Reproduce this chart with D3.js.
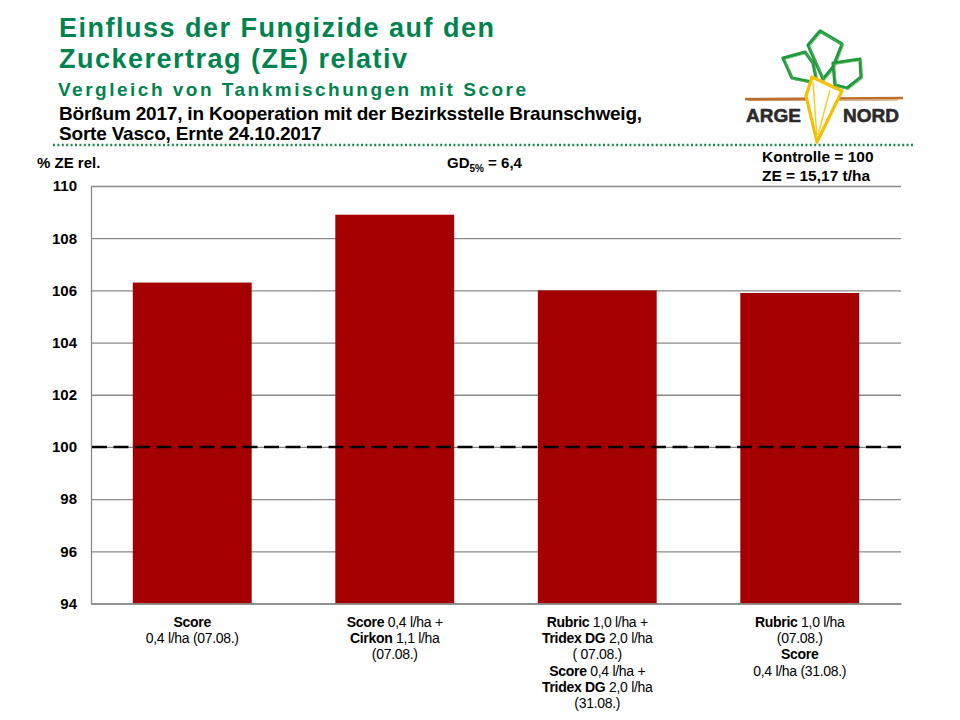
<!DOCTYPE html>
<html>
<head>
<meta charset="utf-8">
<title>Einfluss der Fungizide auf den Zuckerertrag</title>
<script src="https://cdn.jsdelivr.net/npm/d3@7"></script>
<style>
    body { margin: 0; background: #fff; }
    svg { display: block; font-family: "Liberation Sans", Arial, sans-serif; }
    .narrow { font-family: "Liberation Sans Narrow", "Arial Narrow", "Liberation Sans", Arial, sans-serif; }
</style>
</head>
<body>
<div id="chart"></div>
<script>
// data
var treatments = ["Score", "Score + Cirkon", "Rubric + Tridex DG / Score + Tridex DG", "Rubric / Score"];
var zeRel = [106.3, 108.9, 106.0, 105.9];
var yTicks = [94, 96, 98, 100, 102, 104, 106, 108, 110];
var kontrolle = 100;
// each label line: [bold part, normal part]
var tickLines = [
    [["Score", ""], ["", "0,4 l/ha (07.08.)"]],
    [["Score", " 0,4 l/ha +"], ["Cirkon", " 1,1 l/ha"], ["", "(07.08.)"]],
    [["Rubric", " 1,0 l/ha +"], ["Tridex DG", " 2,0 l/ha"], ["", "( 07.08.)"], ["Score", " 0,4 l/ha +"], ["Tridex DG", " 2,0 l/ha"], ["", "(31.08.)"]],
    [["Rubric", " 1,0 l/ha"], ["", "(07.08.)"], ["Score", ""], ["", "0,4 l/ha (31.08.)"]]
];

var W = 960, H = 720;
var green = "#00834f";
var svg = d3.select("#chart").append("svg").attr("width", W).attr("height", H);

// header
svg.append("text").attr("x", 59).attr("y", 37).attr("fill", green)
    .style("font-size", "27px").style("font-weight", "bold").style("letter-spacing", "1.5px")
    .text("Einfluss der Fungizide auf den");
svg.append("text").attr("x", 59).attr("y", 68).attr("fill", green)
    .style("font-size", "27px").style("font-weight", "bold").style("letter-spacing", "1.5px")
    .text("Zuckerertrag (ZE) relativ");
svg.append("text").attr("x", 58).attr("y", 96).attr("fill", green)
    .style("font-size", "19px").style("font-weight", "bold").style("letter-spacing", "2.5px")
    .text("Vergleich von Tankmischungen mit Score");
svg.append("text").attr("x", 59).attr("y", 120).attr("fill", "#000")
    .style("font-size", "19px").style("font-weight", "bold").style("letter-spacing", "-0.2px")
    .text("Börßum 2017, in Kooperation mit der Bezirksstelle Braunschweig,");
svg.append("text").attr("x", 59).attr("y", 140).attr("fill", "#000")
    .style("font-size", "19px").style("font-weight", "bold").style("letter-spacing", "-0.2px")
    .text("Sorte Vasco, Ernte 24.10.2017");

svg.append("line").attr("x1", 53).attr("x2", 915).attr("y1", 145).attr("y2", 145)
    .attr("stroke", "#1b8a4e").attr("stroke-width", 2.5).attr("stroke-dasharray", "2 2.4");

// logo
var logo = svg.append("g").attr("fill", "none").attr("stroke-linejoin", "round");
logo.append("path").attr("d", "M745,99 L903,98").attr("stroke", "#b8702e").attr("stroke-width", 2.5);
logo.append("path").attr("d", "M748,100.5 L898,100").attr("stroke", "#c98a4c").attr("stroke-width", 1);
var leaves = [
    "M783,58 L805,52 L813,63 L817,83 L792,78 Z",
    "M820,31 L842,44 L833,67 L823,79 L808,45 Z",
    "M833,63 L860,59 L861,77 L847,88 L835,85 Z"
];
leaves.forEach(function (d) {
    logo.append("path").attr("d", d).attr("stroke", "#1f9a3e").attr("stroke-width", 3.2);
    logo.append("path").attr("d", d).attr("stroke", "#5cb85c").attr("stroke-width", 0.8)
        .attr("transform", "translate(1.5,1.5)");
});
logo.append("path").attr("d", "M812,77 L842,91 L817,142 L806,96 Z")
    .attr("fill", "#fff").attr("stroke", "#f5c000").attr("stroke-width", 3.2);
logo.append("path").attr("d", "M813,82 L817,138 M830,90 L818,135")
    .attr("stroke", "#f7cc30").attr("stroke-width", 1.5);
logo.append("text").attr("x", 746).attr("y", 122).attr("fill", "#2b2b2b")
    .attr("stroke", "#2b2b2b").attr("stroke-width", 0.6)
    .style("font-size", "19px").style("font-weight", "bold").text("ARGE");
logo.append("text").attr("x", 843).attr("y", 122).attr("fill", "#2b2b2b")
    .attr("stroke", "#2b2b2b").attr("stroke-width", 0.6)
    .style("font-size", "19px").style("font-weight", "bold").text("NORD");

// annotations
svg.append("text").attr("x", 37).attr("y", 168)
    .style("font-size", "15px").style("font-weight", "bold").text("% ZE rel.");
var gd = svg.append("text").attr("x", 447).attr("y", 168)
    .style("font-size", "15px").style("font-weight", "bold");
gd.append("tspan").text("GD");
gd.append("tspan").attr("dy", 4).style("font-size", "10px").text("5%");
gd.append("tspan").attr("dy", -4).text(" = 6,4");
svg.append("text").attr("x", 762).attr("y", 162)
    .style("font-size", "15.5px").style("font-weight", "bold").text("Kontrolle = " + kontrolle);
svg.append("text").attr("x", 762).attr("y", 181)
    .style("font-size", "15.5px").style("font-weight", "bold").text("ZE = 15,17 t/ha");

// chart
var plotLeft = 91, plotRight = 901, plotTop = 186, plotBottom = 603.5;
var x = d3.scaleBand().domain(treatments).range([plotLeft, plotRight]).paddingInner(0.413).paddingOuter(0.2065);
var y = d3.scaleLinear().domain([94, 110]).range([plotBottom, plotTop]);

// gridlines
svg.append("g").attr("transform", "translate(" + plotLeft + ",0)")
    .call(d3.axisLeft(y).tickValues(yTicks).tickSize(-(plotRight - plotLeft)).tickFormat(""))
    .call(function (g) {
        g.select(".domain").remove();
        g.selectAll("line").attr("stroke", "#8a8a8a").attr("stroke-width", 1.3);
    });

// bars
svg.append("g").selectAll("rect")
    .data(zeRel)
    .join("rect")
    .attr("x", function (d, i) { return x(treatments[i]); })
    .attr("width", x.bandwidth())
    .attr("y", function (d) { return y(d); })
    .attr("height", function (d) { return y(94) - y(d); })
    .attr("fill", "#a50000");

// y axis
svg.append("g").attr("transform", "translate(" + plotLeft + ",0)")
    .call(d3.axisLeft(y).tickValues(yTicks).tickSize(0).tickPadding(14))
    .call(function (g) {
        g.select(".domain").attr("stroke", "#8a8a8a").attr("stroke-width", 1.3);
        g.selectAll("text").attr("fill", "#000")
            .style("font-size", "15px").style("font-weight", "bold")
            .style("font-family", "'Liberation Sans', Arial, sans-serif");
    });

// x axis
var xAxis = svg.append("g").attr("transform", "translate(0," + plotBottom + ")")
    .call(d3.axisBottom(x).tickSize(0).tickFormat(""))
    .call(function (g) {
        g.select(".domain").attr("stroke", "#8a8a8a").attr("stroke-width", 1.3);
    });
xAxis.selectAll(".tick").each(function (d, i) {
    var t = d3.select(this).append("text").attr("class", "narrow")
        .attr("fill", "#000").attr("text-anchor", "middle")
        .style("font-size", "14px").style("letter-spacing", "-0.3px");
    tickLines[i].forEach(function (ln, j) {
        var ts = t.append("tspan").attr("x", 0).attr("y", 23.5 + j * 16.2);
        if (ln[0]) ts.append("tspan").style("font-weight", "bold").text(ln[0]);
        if (ln[1]) ts.append("tspan").text(ln[1]);
    });
});

// Kontrolle reference line
svg.append("line").attr("x1", plotLeft + 1).attr("x2", plotRight)
    .attr("y1", y(kontrolle)).attr("y2", y(kontrolle))
    .attr("stroke", "#000").attr("stroke-width", 2.5).attr("stroke-dasharray", "15 6.5");
</script>
</body>
</html>
